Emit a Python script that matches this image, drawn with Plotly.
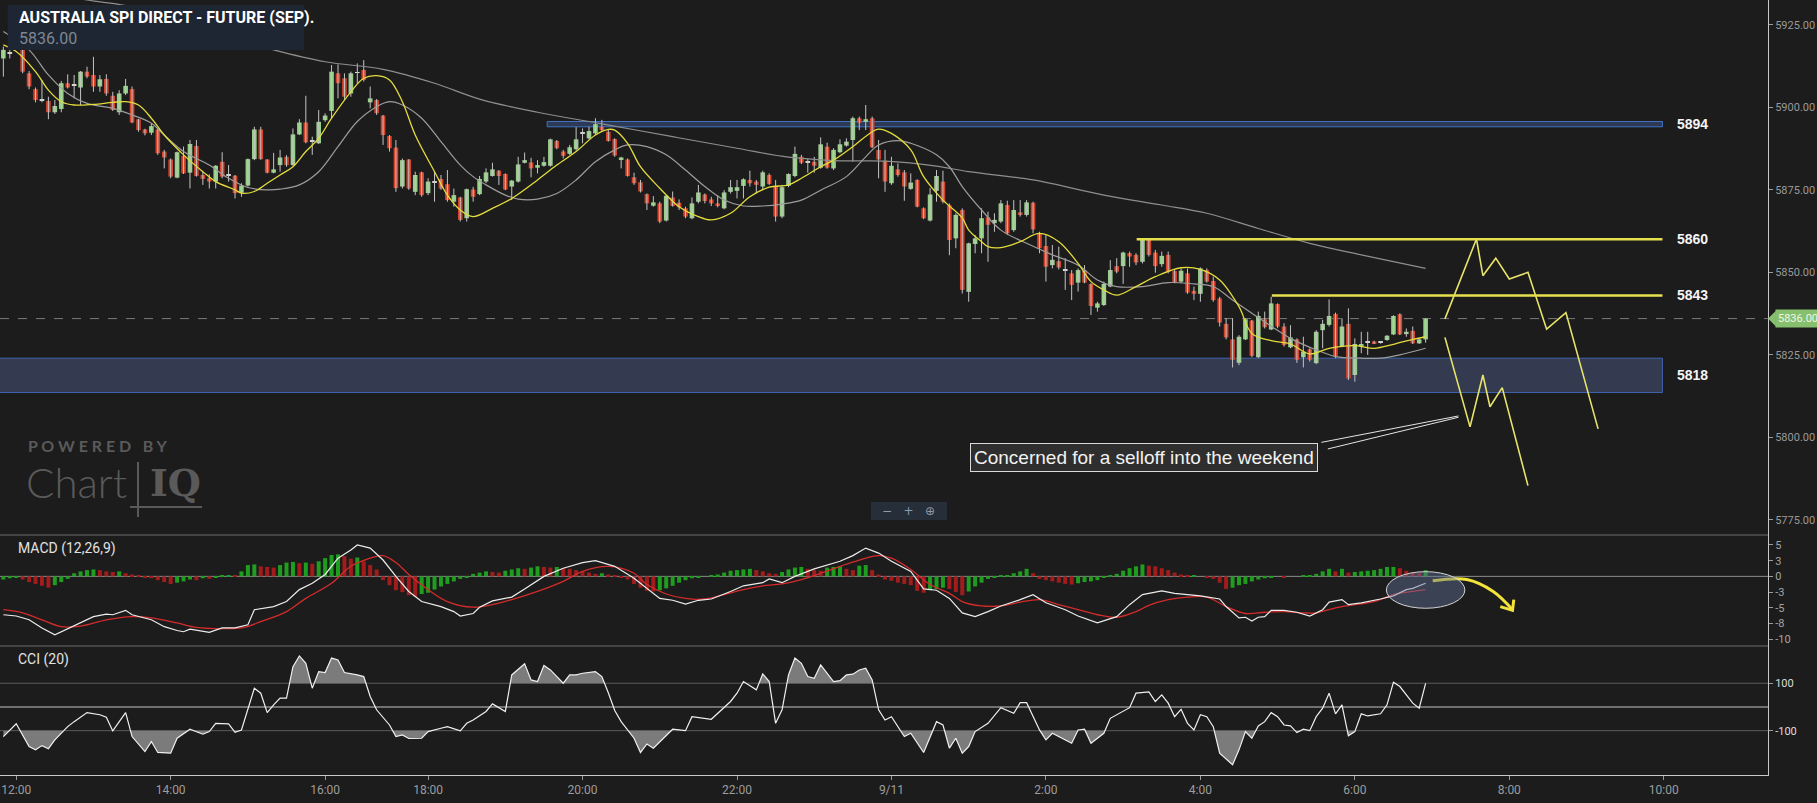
import datetime as dt
import plotly.graph_objects as go

# SPI 200 (Sep) 5-minute bars, 10-11 Sep 2015
bar_open = [
    5914.8, 5916.2, 5917.6, 5917.4, 5910.3, 5905.5, 5902.1, 5901.9, 5898.5, 5899.5,
    5907.3, 5906.5, 5906.0, 5910.8, 5909.8, 5906.3, 5908.6, 5903.5, 5898.5, 5904.2,
    5905.5, 5896.4, 5893.3, 5892.3, 5893.3, 5886.6, 5884.2, 5878.7, 5885.3, 5880.2,
    5888.3, 5879.5, 5878.5, 5877.5, 5883.5, 5879.4, 5879.3, 5874.1, 5876.3, 5884.3,
    5893.3, 5884.2, 5880.2, 5882.5, 5885.0, 5882.5, 5891.8, 5895.4, 5889.5, 5889.1,
    5896.1, 5898.9, 5910.3, 5908.8, 5904.2, 5910.4, 5911.3, 5901.5, 5902.2, 5897.5,
    5891.3, 5887.8, 5876.0, 5884.2, 5874.4, 5880.3, 5874.0, 5877.1, 5878.3, 5876.7,
    5871.4, 5872.7, 5866.4, 5875.1, 5873.7, 5877.5, 5879.2, 5880.8, 5879.8, 5876.0,
    5877.5, 5883.2, 5883.3, 5881.7, 5882.3, 5882.3, 5889.8, 5886.6, 5885.9, 5887.3,
    5892.2, 5890.6, 5892.1, 5894.1, 5892.6, 5890.4, 5884.2, 5884.2, 5878.8, 5877.3,
    5873.7, 5870.2, 5870.9, 5865.7, 5872.7, 5871.1, 5869.4, 5866.4, 5871.4, 5873.6,
    5872.1, 5870.9, 5869.4, 5874.4, 5874.7, 5876.2, 5878.0, 5877.5, 5876.0, 5879.5,
    5876.2, 5866.9, 5876.2, 5879.2, 5885.0, 5883.2, 5883.5, 5881.7, 5888.1, 5881.5,
    5886.4, 5888.4, 5890.1, 5896.7, 5895.6, 5896.7, 5887.1, 5883.8, 5877.0, 5881.2,
    5880.3, 5875.3, 5878.0, 5869.4, 5865.7, 5874.7, 5877.5, 5870.4, 5860.3, 5868.9,
    5844.1, 5858.6, 5860.3, 5866.7, 5864.9, 5865.4, 5870.4, 5862.8, 5868.2, 5867.4,
    5871.1, 5861.8, 5858.0, 5852.2, 5853.4, 5850.6, 5849.7, 5846.9, 5850.5, 5846.5,
    5839.3, 5840.1, 5845.7, 5851.9, 5851.9, 5855.8, 5855.3, 5853.2, 5860.0, 5856.0,
    5852.5, 5855.3, 5850.4, 5847.2, 5849.7, 5844.4, 5843.5, 5850.7, 5847.4, 5842.1,
    5834.4, 5829.7, 5822.6, 5829.7, 5835.4, 5824.3, 5835.8, 5832.7, 5840.4, 5833.6,
    5827.3, 5829.7, 5824.3, 5826.7, 5822.5, 5832.5, 5834.1, 5837.4, 5827.5, 5834.4,
    5818.9, 5827.5, 5828.8, 5829.1, 5828.8, 5829.5, 5831.2, 5837.3, 5831.3, 5832.3,
    5828.5, 5829.7,
]
bar_high = [
    5918.4, 5917.4, 5921.0, 5918.0, 5911.0, 5906.0, 5908.3, 5903.2, 5902.2, 5908.0,
    5910.0, 5909.8, 5911.0, 5912.3, 5915.3, 5909.8, 5910.0, 5904.7, 5905.2, 5908.6,
    5906.3, 5896.5, 5893.5, 5895.1, 5893.5, 5887.1, 5884.5, 5886.6, 5888.1, 5890.1,
    5890.1, 5880.5, 5879.7, 5882.5, 5886.4, 5882.5, 5879.5, 5877.0, 5884.5, 5894.1,
    5894.1, 5884.3, 5886.2, 5887.1, 5885.5, 5893.6, 5896.4, 5903.5, 5891.1, 5899.2,
    5898.2, 5912.8, 5913.0, 5910.3, 5910.8, 5913.3, 5914.3, 5906.3, 5902.5, 5897.7,
    5891.6, 5890.1, 5884.5, 5884.3, 5880.5, 5880.5, 5878.5, 5880.5, 5879.5, 5881.0,
    5875.4, 5872.9, 5875.4, 5875.9, 5879.2, 5881.5, 5883.2, 5881.0, 5880.0, 5878.0,
    5885.0, 5886.3, 5884.7, 5884.0, 5885.0, 5890.5, 5890.1, 5887.1, 5888.6, 5894.0,
    5893.6, 5894.1, 5896.7, 5896.2, 5893.1, 5890.6, 5885.0, 5884.5, 5880.2, 5878.0,
    5873.9, 5873.1, 5871.4, 5873.4, 5874.5, 5872.1, 5869.9, 5872.7, 5876.5, 5873.9,
    5872.9, 5873.4, 5874.9, 5878.0, 5878.0, 5878.5, 5880.8, 5878.0, 5880.8, 5880.0,
    5878.0, 5876.5, 5880.0, 5888.1, 5885.6, 5884.5, 5885.0, 5890.9, 5889.3, 5887.6,
    5890.3, 5890.6, 5897.2, 5897.2, 5900.7, 5897.2, 5890.1, 5887.1, 5885.0, 5883.0,
    5881.0, 5880.0, 5878.2, 5869.7, 5875.5, 5881.0, 5880.8, 5870.9, 5867.9, 5869.4,
    5859.0, 5861.3, 5869.4, 5868.4, 5867.9, 5871.9, 5871.7, 5871.9, 5871.9, 5871.9,
    5871.4, 5862.3, 5861.3, 5858.3, 5857.8, 5854.3, 5850.7, 5851.2, 5852.2, 5846.7,
    5841.1, 5847.2, 5853.7, 5854.3, 5856.3, 5856.3, 5855.8, 5860.3, 5860.2, 5856.8,
    5856.3, 5856.3, 5850.9, 5851.2, 5851.2, 5845.7, 5851.5, 5851.2, 5848.7, 5842.6,
    5836.1, 5836.1, 5831.0, 5836.1, 5835.6, 5838.1, 5838.1, 5842.6, 5840.6, 5834.6,
    5834.0, 5830.0, 5830.5, 5827.0, 5832.5, 5835.6, 5841.8, 5837.8, 5836.1, 5839.1,
    5830.0, 5832.0, 5832.0, 5829.3, 5829.2, 5831.0, 5837.0, 5837.6, 5833.0, 5833.6,
    5830.0, 5836.1,
]
bar_low = [
    5909.3, 5914.8, 5917.6, 5910.3, 5905.5, 5901.5, 5901.5, 5896.4, 5898.0, 5898.5,
    5905.7, 5902.7, 5900.7, 5908.8, 5904.7, 5904.7, 5903.5, 5898.9, 5897.7, 5903.7,
    5895.2, 5892.6, 5891.5, 5891.6, 5885.6, 5881.5, 5878.5, 5878.5, 5879.8, 5875.4,
    5879.0, 5876.5, 5875.4, 5875.4, 5878.5, 5877.5, 5872.4, 5872.9, 5876.0, 5884.0,
    5884.1, 5880.0, 5880.0, 5880.5, 5882.0, 5882.3, 5891.6, 5889.1, 5885.6, 5888.9,
    5895.6, 5896.6, 5902.7, 5902.2, 5903.2, 5907.3, 5907.8, 5899.7, 5897.7, 5888.6,
    5886.6, 5874.4, 5875.4, 5875.0, 5873.4, 5872.9, 5873.4, 5871.4, 5875.0, 5871.4,
    5869.9, 5865.4, 5865.4, 5871.4, 5873.4, 5877.0, 5879.0, 5876.5, 5874.9, 5871.9,
    5877.2, 5883.0, 5878.8, 5880.0, 5882.0, 5882.0, 5887.3, 5884.5, 5885.6, 5886.9,
    5889.1, 5890.3, 5891.6, 5892.6, 5889.6, 5885.0, 5881.5, 5879.0, 5876.5, 5874.2,
    5868.9, 5869.9, 5864.9, 5865.4, 5869.9, 5868.9, 5866.4, 5866.1, 5870.9, 5870.9,
    5870.1, 5869.7, 5869.1, 5873.9, 5872.4, 5872.4, 5876.0, 5873.9, 5874.9, 5876.5,
    5865.4, 5866.4, 5875.8, 5878.8, 5882.8, 5880.2, 5880.2, 5881.4, 5881.4, 5881.0,
    5886.1, 5888.1, 5883.5, 5893.1, 5893.1, 5887.6, 5878.5, 5874.4, 5876.5, 5879.0,
    5871.7, 5875.0, 5869.7, 5866.1, 5865.4, 5871.4, 5870.9, 5855.2, 5857.3, 5843.6,
    5841.1, 5855.8, 5855.8, 5853.2, 5862.3, 5864.9, 5861.3, 5862.3, 5866.9, 5866.9,
    5861.8, 5855.8, 5847.2, 5851.2, 5850.9, 5844.7, 5841.6, 5844.2, 5846.7, 5837.1,
    5838.1, 5839.8, 5845.5, 5849.7, 5846.5, 5851.7, 5852.2, 5852.7, 5854.8, 5849.9,
    5851.7, 5849.7, 5846.7, 5846.7, 5843.5, 5841.6, 5841.1, 5846.9, 5841.1, 5833.6,
    5829.7, 5821.2, 5821.9, 5829.5, 5824.3, 5824.0, 5833.0, 5832.5, 5833.1, 5827.5,
    5827.0, 5822.6, 5821.2, 5823.0, 5822.2, 5827.0, 5833.6, 5824.0, 5827.3, 5817.4,
    5816.9, 5825.5, 5825.0, 5828.3, 5828.4, 5829.3, 5831.0, 5831.0, 5830.5, 5828.3,
    5828.3, 5828.7,
]
bar_close = [
    5917.4, 5916.2, 5920.0, 5910.8, 5906.3, 5902.2, 5902.1, 5898.5, 5900.4, 5907.3,
    5906.0, 5906.5, 5910.8, 5909.3, 5906.3, 5908.5, 5904.2, 5899.2, 5904.2, 5906.5,
    5895.4, 5893.1, 5892.1, 5894.3, 5886.1, 5884.8, 5879.0, 5886.4, 5880.0, 5888.9,
    5879.2, 5878.3, 5877.5, 5882.3, 5879.0, 5879.4, 5874.0, 5876.3, 5884.3, 5893.3,
    5884.3, 5880.2, 5881.2, 5884.8, 5882.5, 5891.8, 5895.4, 5889.4, 5889.5, 5895.6,
    5897.5, 5910.8, 5907.3, 5903.2, 5910.3, 5910.4, 5908.3, 5902.7, 5898.2, 5891.6,
    5887.6, 5875.5, 5884.0, 5875.4, 5879.5, 5873.4, 5877.5, 5877.1, 5875.4, 5871.9,
    5873.4, 5865.9, 5875.2, 5872.9, 5878.3, 5880.3, 5881.2, 5879.2, 5875.1, 5877.8,
    5882.7, 5884.0, 5881.5, 5882.5, 5883.4, 5890.3, 5887.6, 5885.3, 5887.9, 5890.3,
    5892.2, 5892.8, 5894.9, 5893.1, 5889.8, 5885.4, 5884.8, 5879.2, 5877.0, 5874.5,
    5870.9, 5871.2, 5865.4, 5873.2, 5870.1, 5869.7, 5866.9, 5870.9, 5874.2, 5871.6,
    5870.9, 5870.1, 5874.2, 5875.8, 5875.8, 5878.2, 5877.0, 5876.5, 5880.3, 5876.8,
    5866.9, 5875.8, 5879.8, 5885.9, 5883.2, 5883.2, 5882.3, 5888.8, 5881.7, 5887.1,
    5888.8, 5889.6, 5896.7, 5895.3, 5896.4, 5887.9, 5884.2, 5877.5, 5882.3, 5879.5,
    5876.0, 5877.2, 5869.9, 5866.4, 5873.6, 5879.2, 5871.4, 5859.8, 5867.4, 5844.7,
    5858.8, 5860.3, 5866.4, 5864.4, 5865.9, 5870.9, 5861.8, 5868.9, 5867.6, 5871.2,
    5863.0, 5857.3, 5851.7, 5853.8, 5851.5, 5850.6, 5846.2, 5850.7, 5846.9, 5839.8,
    5840.6, 5846.5, 5850.7, 5850.2, 5856.0, 5854.8, 5853.0, 5860.0, 5855.3, 5851.9,
    5855.0, 5850.2, 5846.9, 5850.5, 5843.9, 5843.5, 5851.2, 5847.2, 5841.6, 5834.8,
    5830.3, 5823.5, 5830.5, 5835.8, 5824.7, 5836.8, 5833.4, 5840.6, 5833.6, 5828.0,
    5830.3, 5823.5, 5826.0, 5823.5, 5832.0, 5834.4, 5836.8, 5824.5, 5833.6, 5817.9,
    5828.3, 5828.3, 5828.8, 5828.5, 5828.8, 5830.8, 5836.8, 5831.2, 5832.0, 5828.5,
    5829.7, 5836.0,
]

# moving averages (bar index, price)
ma_fast_bar = [0, 2, 5, 7, 9, 11, 14, 17, 19, 21, 23, 25, 28, 31, 33, 36, 37, 39, 41, 43,
               45, 47, 49, 51, 54, 56, 58, 60, 62, 64, 67, 69, 71, 73, 76, 79, 83, 86, 89, 92,
               94, 95, 97, 99, 102, 105, 108, 110, 113, 116, 119, 122, 124, 127, 129, 132, 135, 136, 138, 141,
               143, 146, 149, 150, 152, 153, 155, 158, 161, 164, 167, 169, 171, 173, 176, 179, 183, 186, 189, 192,
               194, 197, 200, 203, 206, 210, 213, 216, 219, 221]
ma_fast_val = [5918.9, 5916.9, 5910.8, 5905.2, 5901.7, 5900.7, 5900.9, 5901.5, 5901.7, 5900.7,
               5896.7, 5891.6, 5885.6, 5880.5, 5877.5, 5875.0, 5874.0, 5874.5, 5877.0, 5879.5,
               5882.0, 5886.6, 5890.6, 5896.7, 5904.7, 5908.8, 5909.6, 5908.3, 5901.7, 5891.6,
               5880.5, 5873.4, 5868.9, 5866.9, 5869.4, 5872.4, 5878.0, 5882.5, 5886.6, 5891.6,
               5893.3, 5893.1, 5889.1, 5882.0, 5875.5, 5869.9, 5866.9, 5865.9, 5867.9, 5872.9,
               5875.8, 5876.5, 5878.5, 5882.0, 5884.0, 5888.1, 5892.6, 5893.4, 5892.1, 5887.1,
               5879.0, 5871.9, 5866.5, 5862.8, 5859.3, 5857.8, 5857.5, 5859.3, 5861.8, 5859.3,
               5852.7, 5847.2, 5844.7, 5843.1, 5845.7, 5848.7, 5851.4, 5850.9, 5847.7, 5839.6,
               5831.5, 5829.3, 5828.3, 5825.3, 5827.0, 5827.8, 5827.0, 5828.2, 5829.7, 5830.5]

ma_mid_bar = [0, 4, 7, 10, 13, 17, 20, 23, 25, 28, 32, 35, 38, 41, 43, 46, 49, 52, 55, 58,
              60, 62, 65, 68, 71, 73, 75, 78, 80, 83, 86, 89, 92, 95, 97, 100, 103, 106, 109, 112,
              115, 118, 121, 124, 127, 131, 134, 136, 139, 141, 145, 147, 149, 152, 155, 159, 163, 167, 170, 173,
              177, 181, 185, 188, 191, 194, 197, 200, 204, 207, 211, 214, 217, 221]
ma_mid_val = [5923.0, 5917.4, 5909.8, 5904.2, 5901.2, 5899.7, 5897.7, 5895.2, 5891.6, 5886.6,
              5882.5, 5878.5, 5875.7, 5875.0, 5875.2, 5876.5, 5880.5, 5888.1, 5895.7, 5900.2,
              5901.7, 5900.7, 5896.7, 5889.6, 5882.5, 5879.0, 5876.5, 5873.4, 5872.2, 5872.2,
              5873.9, 5878.0, 5883.5, 5887.1, 5888.6, 5888.1, 5885.6, 5881.0, 5876.0, 5871.9,
              5870.1, 5870.1, 5870.7, 5871.9, 5874.9, 5879.0, 5885.0, 5888.6, 5889.9, 5889.1,
              5885.6, 5882.0, 5876.0, 5868.9, 5862.8, 5858.8, 5855.3, 5852.2, 5847.7, 5845.7,
              5845.7, 5846.9, 5846.5, 5845.7, 5841.6, 5837.6, 5833.7, 5830.0, 5826.5, 5824.5,
              5824.0, 5824.0, 5825.0, 5827.0]

ma_slow_bar = [5, 13, 19, 30, 42, 50, 59, 67, 74, 83, 93, 104, 114, 122, 130, 137, 145, 150, 160, 171,
               180, 187, 195, 203, 211, 221]
ma_slow_val = [5936.0, 5932.5, 5930.8, 5924.2, 5917.4, 5913.8, 5911.5, 5907.3, 5902.5, 5898.5,
               5895.0, 5891.1, 5887.6, 5884.9, 5883.8, 5883.7, 5882.2, 5880.5, 5878.0, 5873.4,
               5870.4, 5867.9, 5863.3, 5858.8, 5855.3, 5851.2]

# MACD (12,26,9)
macd_bar = [0, 2, 4, 6, 8, 9, 12, 14, 16, 17, 19, 20, 23, 25, 27, 28, 29, 31, 32, 34,
            36, 38, 39, 42, 44, 46, 48, 50, 52, 54, 55, 57, 59, 61, 63, 65, 68, 70, 71, 73,
            74, 76, 79, 81, 84, 87, 90, 92, 95, 98, 100, 102, 104, 106, 108, 110, 113, 115, 118, 119,
            121, 123, 126, 128, 130, 132, 134, 136, 138, 141, 143, 145, 147, 149, 151, 153, 155, 158, 160, 162,
            165, 167, 170, 173, 175, 177, 180, 182, 184, 186, 189, 190, 192, 193, 194, 195, 196, 197, 199, 201,
            203, 205, 206, 208, 209, 211, 214, 216, 218, 219, 221]
macd_val = [-6.1, -6.3, -6.9, -8.2, -9.3, -8.8, -7.4, -6.4, -6.0, -6.1, -5.4, -6.1, -6.9, -8.0, -8.6, -8.8, -8.4, -8.8, -8.9, -8.2,
            -8.2, -7.7, -5.3, -4.8, -4.0, -2.1, -1.1, 0.3, 2.9, 4.2, 5.0, 4.5, 2.6, 0.0, -2.4, -4.0, -4.8, -5.6, -6.3, -5.9,
            -4.9, -3.9, -3.3, -2.0, 0.0, 1.3, 2.2, 2.5, 1.6, -0.3, -1.9, -3.5, -3.8, -4.4, -3.8, -3.6, -2.4, -1.5, -1.0, -0.4,
            -1.0, 0.0, 1.2, 1.8, 2.4, 3.3, 4.5, 3.7, 2.4, 0.8, -2.0, -2.2, -3.5, -5.8, -6.4, -5.6, -4.7, -3.7, -2.9, -4.2,
            -5.3, -6.3, -7.4, -6.4, -4.5, -2.9, -2.3, -2.7, -2.9, -3.1, -3.6, -4.8, -6.6, -6.5, -7.1, -6.5, -6.4, -5.4, -5.4, -5.7,
            -6.3, -5.3, -4.1, -3.7, -4.5, -4.2, -3.6, -3.1, -2.1, -1.9, -1.1]
signal_bar = [0, 3, 6, 9, 12, 16, 20, 23, 27, 30, 34, 37, 40, 44, 47, 51, 54, 57, 59, 61,
              63, 66, 69, 73, 76, 79, 83, 87, 90, 94, 98, 100, 103, 106, 109, 112, 115, 118, 121, 124,
              127, 130, 133, 136, 138, 141, 144, 147, 149, 152, 155, 158, 161, 164, 167, 170, 173, 176, 178, 181,
              184, 187, 190, 193, 196, 199, 202, 204, 207, 210, 213, 216, 219, 221]
signal_val = [-5.3, -5.8, -6.9, -8.0, -7.9, -6.9, -6.4, -6.6, -7.4, -8.1, -8.3, -8.2, -7.2, -5.6, -3.5, -1.1, 1.6, 2.9, 3.3, 2.2,
              0.3, -2.1, -4.0, -4.9, -4.5, -3.7, -2.4, -0.8, 0.8, 1.6, 0.5, -1.3, -2.8, -3.5, -3.6, -2.9, -2.1, -1.5, -1.2, -0.5,
              0.5, 1.6, 2.6, 3.3, 2.9, 1.1, -1.3, -2.7, -4.0, -4.7, -4.7, -4.1, -3.7, -4.5, -5.3, -6.1, -6.5, -5.6, -4.6, -3.7,
              -3.3, -3.3, -4.8, -5.9, -5.7, -5.6, -5.8, -5.8, -5.0, -4.5, -4.0, -2.9, -2.4, -2.1]
macd_hist = [
    -0.5, -0.3, -0.2, -0.5, -0.9, -1.2, -1.5, -1.8, -1.4, -0.9,
    -0.4, 0.5, 0.8, 1.0, 1.1, 1.0, 0.8, 0.7, 0.8, 0.5,
    0.3, 0.1, -0.1, -0.3, -0.6, -0.9, -1.2, -1.0, -0.8, -0.5,
    -0.6, -0.3, -0.4, -0.1, 0.1, 0.2, 0.1, 0.8, 1.8, 1.9,
    1.6, 1.5, 1.4, 1.8, 2.2, 2.3, 2.1, 2.2, 2.0, 2.4,
    2.9, 3.4, 3.5, 3.2, 2.8, 3.0, 2.4, 1.8, 1.1, -0.6,
    -1.4, -2.2, -2.5, -3.0, -3.2, -2.8, -2.6, -2.1, -1.6, -1.2,
    -0.8, -0.4, -0.1, 0.4, 0.6, 0.8, 0.7, 0.6, 0.9, 1.1,
    1.3, 1.2, 1.4, 1.6, 1.5, 1.4, 1.5, 1.3, 1.2, 1.0,
    0.8, 0.6, 0.4, 0.5, 0.3, 0.1, -0.1, -0.5, -1.2, -1.8,
    -2.3, -2.4, -2.2, -1.9, -1.5, -1.0, -0.6, -0.3, -0.1, 0.0,
    0.1, 0.3, 0.6, 0.9, 1.0, 1.1, 1.2, 1.0, 0.8, 0.5,
    0.4, 0.7, 1.1, 1.4, 1.5, 1.2, 1.0, 0.9, 1.4, 1.5,
    1.6, 1.2, 1.0, 1.7, 1.8, 1.0, 0.3, -0.5, -0.7, -1.0,
    -1.2, -1.4, -2.3, -2.6, -2.2, -2.0, -1.8, -2.0, -2.5, -3.0,
    -2.4, -1.6, -1.0, -0.4, -0.1, 0.1, 0.2, 0.5, 0.8, 1.2,
    0.5, -0.4, -0.6, -0.8, -1.0, -1.2, -1.3, -1.1, -0.9, -0.8,
    -0.6, -0.2, 0.1, 0.4, 0.9, 1.3, 1.6, 1.9, 1.7, 1.6,
    1.3, 1.0, 0.6, 0.3, 0.1, 0.2, 0.0, -0.1, -0.4, -1.0,
    -2.0, -1.8, -1.4, -1.2, -0.8, -0.5, -0.3, -0.1, 0.0, -0.1,
    0.0, 0.0, 0.1, 0.1, 0.4, 0.8, 1.2, 0.8, 1.2, 0.6,
    0.7, 0.8, 0.9, 1.0, 1.2, 1.5, 1.5, 1.3, 0.9, 0.6,
    0.5, 1.0,
]

# CCI (20)
cci_bar = [0, 2, 4, 5, 6, 7, 8, 10, 11, 13, 15, 16, 17, 18, 19, 20, 22, 23, 24, 26,
           27, 29, 31, 32, 33, 35, 36, 37, 39, 40, 41, 42, 43, 44, 45, 46, 47, 48, 49, 50,
           51, 52, 53, 55, 56, 57, 58, 60, 61, 62, 63, 65, 66, 68, 69, 71, 72, 73, 75, 76,
           78, 79, 81, 82, 83, 84, 85, 87, 88, 89, 90, 92, 93, 94, 95, 96, 98, 99, 100, 101,
           103, 104, 106, 107, 110, 111, 113, 114, 115, 117, 118, 119, 120, 121, 122, 123, 124, 125, 126, 127,
           129, 130, 131, 132, 133, 134, 135, 136, 137, 138, 140, 141, 143, 145, 146, 147, 148, 149, 150, 151,
           153, 155, 157, 158, 159, 161, 162, 163, 164, 166, 167, 168, 169, 171, 172, 174, 175, 176, 178, 179,
           180, 181, 182, 183, 184, 185, 186, 187, 188, 189, 191, 192, 193, 194, 195, 196, 197, 198, 199, 200,
           201, 202, 203, 204, 205, 206, 207, 208, 209, 210, 211, 212, 214, 215, 216, 217, 219, 220, 221]
cci_val = [-125, -71, -167, -181, -163, -176, -139, -83, -62, -24, -33, -43, -101, -62, -24, -125, -188, -146, -192, -195,
           -132, -94, -115, -104, -69, -71, -107, -97, 79, 58, -24, 9, 37, 37, 170, 215, 184, 79, 149, 145,
           206, 198, 145, 135, 128, 44, -12, -76, -125, -118, -133, -132, -104, -90, -83, -101, -69, -55, -19, 13,
           -19, 135, 182, 114, 107, 175, 156, 100, 135, 135, 142, 149, 128, 60, -15, -62, -132, -192, -156, -174,
           -118, -94, -100, -41, -52, -27, 23, 58, 107, 72, 139, 107, -69, -12, 135, 206, 184, 128, 121, 177,
           107, 111, 135, 138, 156, 163, 114, -12, -55, -41, -125, -111, -192, -62, -76, -174, -132, -195, -167, -104,
           -69, -3, -27, 18, 18, -97, -139, -111, -125, -153, -97, -94, -153, -111, -48, -19, -3, 58, 63, 23,
           51, 16, -41, -10, -69, -97, -33, -41, -83, -195, -244, -181, -104, -132, -80, -62, -24, -41, -76, -80,
           -108, -94, -100, -41, -5, 58, -29, 9, -122, -104, -29, -38, -29, 9, 104, 86, 16, -5, 99]

# chart levels and the hand-drawn scenario paths
level_band_top = [5894.1, 5895.7]
level_band_low = [5813.6, 5824.0]
level_lines = [5860, 5843]
level_line_start = [176.1, 197.1]
level_labels = ["5894", "5860", "5843", "5818"]
level_label_y = [5894.9, 5860, 5843, 5818.8]
proj_up_bar = [224.0, 228.9, 229.9, 231.9, 234.0, 236.9, 239.8, 242.8, 247.8]
proj_up_price = [5835.9, 5860.1, 5849.0, 5854.3, 5848.0, 5850.0, 5832.8, 5837.8, 5802.6]
proj_dn_bar = [224.0, 227.9, 229.9, 231.0, 232.9, 236.9]
proj_dn_price = [5830.3, 5803.2, 5818.9, 5809.3, 5815.1, 5785.4]
macd_arrow_bar = [222.1, 227.4, 231.5, 234.5]
macd_arrow_val = [-0.7, -0.5, -2.4, -5.3]

# 5-minute slots: day session to 16:25, night session from 17:10, then future slots
slot_times = ([dt.datetime(2015, 9, 10, 11, 50) + dt.timedelta(minutes=5 * i) for i in range(56)]
              + [dt.datetime(2015, 9, 10, 17, 10) + dt.timedelta(minutes=5 * i) for i in range(166)]
              + [dt.datetime(2015, 9, 11, 7, 0) + dt.timedelta(minutes=5 * i) for i in range(60)])
tick_pos, tick_text = [], []
for i, t in enumerate(slot_times):
    if t.minute == 0 and t.hour % 2 == 0:
        tick_pos.append(i)
        tick_text.append(f"{t.month}/{t.day}" if t.hour == 0 else f"{t.hour}:00")

bars = list(range(len(bar_close)))
last_price = bar_close[-1]

BG = "#1c1c1c"
UP, DOWN, EVEN = "#97cf88", "#d5432a", "#d8d8d8"
NARROW = "Liberation Sans Narrow, Roboto, sans-serif"

# pixel layout of the ChartIQ panels (plot area is 1768 x 775)
PW, PH = 1768.0, 775.0
MAIN_DOM = [1 - 535 / PH, 1]
MACD_DOM = [1 - 646 / PH, 1 - 535 / PH]
CCI_DOM = [0, 1 - 646 / PH]


def px(x):
    return x / PW


def py(y):
    return 1 - y / PH


def excursions(xs, ys, level, upper):
    # closed polygons between the CCI line and a threshold, for the grey shading
    inside = (lambda v: v > level) if upper else (lambda v: v < level)
    out_x, out_y, poly = [], [], None
    for j, (x, y) in enumerate(zip(xs, ys)):
        if j > 0:
            x0, y0 = xs[j - 1], ys[j - 1]
            if inside(y) != inside(y0):
                xc = x0 + (level - y0) * (x - x0) / (y - y0)
                if poly is None:
                    poly = [(xc, level)]
                else:
                    poly.append((xc, level))
                    out_x += [p[0] for p in poly] + [None]
                    out_y += [p[1] for p in poly] + [None]
                    poly = None
        if inside(y):
            if poly is None:
                poly = [(x, level)]
            poly.append((x, y))
    if poly:
        poly.append((poly[-1][0], level))
        out_x += [p[0] for p in poly]
        out_y += [p[1] for p in poly]
    return out_x, out_y


fig = go.Figure()

# candles: wicks then bodies
wick_x, wick_y = [], []
for i, h, l in zip(bars, bar_high, bar_low):
    wick_x += [i, i, None]
    wick_y += [l, h, None]
fig.add_trace(go.Scatter(x=wick_x, y=wick_y, mode="lines", line=dict(color="#c4c4c4", width=1),
                         hoverinfo="skip", yaxis="y"))
body_base = [min(o, c) for o, c in zip(bar_open, bar_close)]
body_h = [max(abs(c - o), 0.3) for o, c in zip(bar_open, bar_close)]
body_col = [UP if c > o else DOWN if c < o else EVEN for o, c in zip(bar_open, bar_close)]
fig.add_trace(go.Bar(x=bars, y=body_h, base=body_base, width=0.72, marker=dict(color=body_col, line_width=0),
                     hoverinfo="skip", yaxis="y"))

fig.add_trace(go.Scatter(x=ma_slow_bar, y=ma_slow_val, mode="lines", line=dict(color="#8e8e8e", width=1.2, shape="spline"),
                         hoverinfo="skip", yaxis="y"))
fig.add_trace(go.Scatter(x=ma_mid_bar, y=ma_mid_val, mode="lines", line=dict(color="#9c9c9c", width=1.2, shape="spline"),
                         hoverinfo="skip", yaxis="y"))
fig.add_trace(go.Scatter(x=ma_fast_bar, y=ma_fast_val, mode="lines", line=dict(color="#e3dc3c", width=1.3, shape="spline"),
                         hoverinfo="skip", yaxis="y"))

# scenario zig-zags
for bx, by in ((proj_up_bar, proj_up_price), (proj_dn_bar, proj_dn_price)):
    fig.add_trace(go.Scatter(x=bx, y=by, mode="lines", line=dict(color="#e8e36a", width=1.6),
                             hoverinfo="skip", yaxis="y"))

# callout pointer lines
fig.add_trace(go.Scatter(x=[204.8, 226.1, None, 205.8, 226.1], y=[5798.5, 5806.5, None, 5796.5, 5806.1],
                         mode="lines", line=dict(color="#e4e4e4", width=1), hoverinfo="skip", yaxis="y"))

# MACD panel
hist_col = ["#a31c1c" if i > 0 and v < macd_hist[i - 1] else "#1f9d1f" for i, v in enumerate(macd_hist)]
fig.add_trace(go.Bar(x=bars, y=macd_hist, width=0.62, marker=dict(color=hist_col, line_width=0),
                     hoverinfo="skip", yaxis="y2"))
fig.add_trace(go.Scatter(x=signal_bar, y=signal_val, mode="lines", line=dict(color="#d42b2b", width=1.3, shape="spline"),
                         hoverinfo="skip", yaxis="y2"))
fig.add_trace(go.Scatter(x=macd_bar, y=macd_val, mode="lines", line=dict(color="#ececec", width=1.2),
                         hoverinfo="skip", yaxis="y2"))
fig.add_trace(go.Scatter(x=macd_arrow_bar, y=macd_arrow_val, mode="lines",
                         line=dict(color="#f2e43a", width=3, shape="spline"), hoverinfo="skip", yaxis="y2"))
fig.add_trace(go.Scatter(x=[232.6, 234.5, 234.7], y=[-4.8, -5.4, -3.7], mode="lines",
                         line=dict(color="#f2e43a", width=3), hoverinfo="skip", yaxis="y2"))

# CCI panel
for lvl, up in ((100, True), (-100, False)):
    fx, fy = excursions(cci_bar, cci_val, lvl, up)
    fig.add_trace(go.Scatter(x=fx, y=fy, mode="lines", fill="toself", fillcolor="#7b7b7b",
                             line=dict(width=0), hoverinfo="skip", yaxis="y3"))
fig.add_trace(go.Scatter(x=cci_bar, y=cci_val, mode="lines", line=dict(color="#f0f0f0", width=1.2),
                         hoverinfo="skip", yaxis="y3"))

shapes = [
    # support / resistance zones
    dict(type="rect", xref="x", yref="y", x0=84.5, x1=257.8, y0=level_band_top[0], y1=level_band_top[1],
         fillcolor="#2c3a56", line=dict(color="#4272c0", width=1), layer="below"),
    dict(type="rect", xref="x", yref="y", x0=-0.6, x1=257.8, y0=level_band_low[0], y1=level_band_low[1],
         fillcolor="#343a4f", line=dict(color="#3d64ad", width=1), layer="below"),
    # current price
    dict(type="line", xref="paper", yref="y", x0=0, x1=1, y0=last_price, y1=last_price,
         line=dict(color="#7a7a7a", width=1, dash="dash"), layer="below"),
    dict(type="path", xref="paper", yref="y",
         path=f"M 1.0 {last_price} L 1.0045 {last_price + 2.4} L 1.0045 {last_price - 2.4} Z",
         fillcolor="#86c06e", line=dict(width=0)),
    # panel separators and indicator guides
    dict(type="line", xref="paper", yref="paper", x0=0, x1=1, y0=MACD_DOM[1], y1=MACD_DOM[1],
         line=dict(color="#6c6c6c", width=1)),
    dict(type="line", xref="paper", yref="paper", x0=0, x1=1, y0=CCI_DOM[1], y1=CCI_DOM[1],
         line=dict(color="#6c6c6c", width=1)),
    dict(type="line", xref="paper", yref="y2", x0=0, x1=1, y0=0, y1=0,
         line=dict(color="#8a8a8a", width=1), layer="below"),
    dict(type="line", xref="paper", yref="y3", x0=0, x1=1, y0=100, y1=100,
         line=dict(color="#5c5c5c", width=1), layer="below"),
    dict(type="line", xref="paper", yref="y3", x0=0, x1=1, y0=-100, y1=-100,
         line=dict(color="#5c5c5c", width=1), layer="below"),
    dict(type="line", xref="paper", yref="y3", x0=0, x1=1, y0=0, y1=0,
         line=dict(color="#8c8c8c", width=1.6), layer="below"),
    # MACD highlight ellipse
    dict(type="circle", xref="x", yref="y2", x0=214.9, x1=227.1, y0=-5.07, y1=0.75,
         fillcolor="rgba(96,112,150,0.45)", line=dict(color="#d4d4d4", width=1)),
    # title box
    dict(type="rect", xref="paper", yref="paper", x0=px(7.7), x1=px(304), y0=py(50), y1=py(5),
         fillcolor="#1e2633", line=dict(width=0), layer="above"),
    # zoom controls
    dict(type="rect", xref="paper", yref="paper", x0=px(871), x1=px(947), y0=py(520), y1=py(502),
         fillcolor="#262e39", line=dict(width=0)),
    # watermark strokes
    dict(type="line", xref="paper", yref="paper", x0=px(138), x1=px(138), y0=py(517), y1=py(462),
         line=dict(color="#595959", width=2)),
    dict(type="line", xref="paper", yref="paper", x0=px(130), x1=px(202), y0=py(507), y1=py(507),
         line=dict(color="#595959", width=2)),
]
for lvl, x0 in zip(level_lines, level_line_start):
    shapes.append(dict(type="line", xref="x", yref="y", x0=x0, x1=257.8, y0=lvl, y1=lvl,
                       line=dict(color="#e6e04c", width=2.5), layer="above"))

annotations = [
    dict(xref="paper", yref="paper", x=px(17), y=py(17.5), xanchor="left", yanchor="middle", showarrow=False,
         text="<b>AUSTRALIA SPI DIRECT - FUTURE (SEP).</b>", font=dict(family=NARROW, size=16, color="#ffffff")),
    dict(xref="paper", yref="paper", x=px(17), y=py(39), xanchor="left", yanchor="middle", showarrow=False,
         text=f"{last_price:.2f}", font=dict(family="Roboto", size=16, color="#7f8792")),
    dict(xref="paper", yref="y", x=1, y=last_price, xanchor="left", yanchor="middle", xshift=7, showarrow=False,
         text=f"{last_price:.2f}", bgcolor="#86c06e", borderpad=2,
         font=dict(family=NARROW, size=11, color="#eef7ea")),
    dict(xref="paper", yref="paper", x=px(16), y=py(548), xanchor="left", yanchor="middle", showarrow=False,
         text="MACD (12,26,9)", font=dict(family=NARROW, size=14, color="#e2e2e2")),
    dict(xref="paper", yref="paper", x=px(16), y=py(659), xanchor="left", yanchor="middle", showarrow=False,
         text="CCI (20)", font=dict(family=NARROW, size=14, color="#e2e2e2")),
    dict(xref="x", yref="y", x=177.2, y=5793.8, showarrow=False, text="Concerned for a selloff into the weekend",
         bgcolor="#2e2e2e", bordercolor="#dadada", borderwidth=1, borderpad=3,
         font=dict(family="Liberation Sans, Arial", size=19, color="#f2f2f2")),
    dict(xref="paper", yref="paper", x=px(909), y=py(511), showarrow=False, text="−   +   ⊕",
         font=dict(family="DejaVu Sans", size=12, color="#8d9bb0")),
    dict(xref="paper", yref="paper", x=px(26), y=py(446), xanchor="left", yanchor="middle", showarrow=False,
         text="<b>P O W E R E D   B Y</b>", font=dict(family="Lato", size=16, color="#5a5a5a")),
    dict(xref="paper", yref="paper", x=px(24), y=py(482), xanchor="left", yanchor="middle", showarrow=False,
         text="Chart", font=dict(family="Lato", size=42, color="#5a5a5a", weight=300)),
    dict(xref="paper", yref="paper", x=px(148), y=py(483), xanchor="left", yanchor="middle", showarrow=False,
         text="<b>IQ</b>", font=dict(family="DejaVu Serif", size=38, color="#5a5a5a")),
]
for lab, ly in zip(level_labels, level_label_y):
    annotations.append(dict(xref="paper", yref="y", x=px(1675), y=ly, xanchor="left", yanchor="middle",
                            showarrow=False, text=f"<b>{lab}</b>",
                            font=dict(family="Liberation Sans, Arial", size=14, color="#f4f4f4")))

axis_common = dict(showgrid=False, zeroline=False, side="right", anchor="x", ticks="outside", ticklen=4,
                   tickcolor="#9a9a9a", showline=True, linecolor="#c8c8c8", linewidth=1)
fig.update_layout(
    width=1817, height=803,
    margin=dict(l=0, r=49, t=0, b=28),
    paper_bgcolor=BG, plot_bgcolor=BG,
    showlegend=False, barmode="overlay", hovermode=False,
    xaxis=dict(range=[-0.52, 274.2], domain=[0, 1], anchor="y3", showgrid=False, zeroline=False,
               tickvals=tick_pos, ticktext=tick_text, ticks="outside", ticklen=4, tickcolor="#9a9a9a",
               tickfont=dict(family="Roboto", size=12, color="#9c9c9c"),
               showline=True, linecolor="#c8c8c8", linewidth=1),
    yaxis=dict(domain=MAIN_DOM, range=[5770.44, 5932.51], tickvals=[5775, 5800, 5825, 5850, 5875, 5900, 5925],
               tickformat=".2f", tickfont=dict(family="Roboto", size=11, color="#9a9a9a"), **axis_common),
    yaxis2=dict(domain=MACD_DOM, range=[-11.07, 6.58], tickvals=[5, 2.5, 0, -2.5, -5, -7.5, -10],
                ticktext=["5", "3", "0", "-3", "-5", "-8", "-10"],
                tickfont=dict(family="Roboto", size=11, color="#a4a4a4"), **axis_common),
    yaxis3=dict(domain=CCI_DOM, range=[-287, 257], tickvals=[100, -100], ticktext=["100", "-100"],
                tickfont=dict(family="Roboto", size=11, color="#dcdcdc"), **axis_common),
    shapes=shapes,
    annotations=annotations,
)

fig.write_html("out.html", config={"displayModeBar": False},
               post_script="document.body.style.margin='0';document.body.style.background='#1c1c1c';")
